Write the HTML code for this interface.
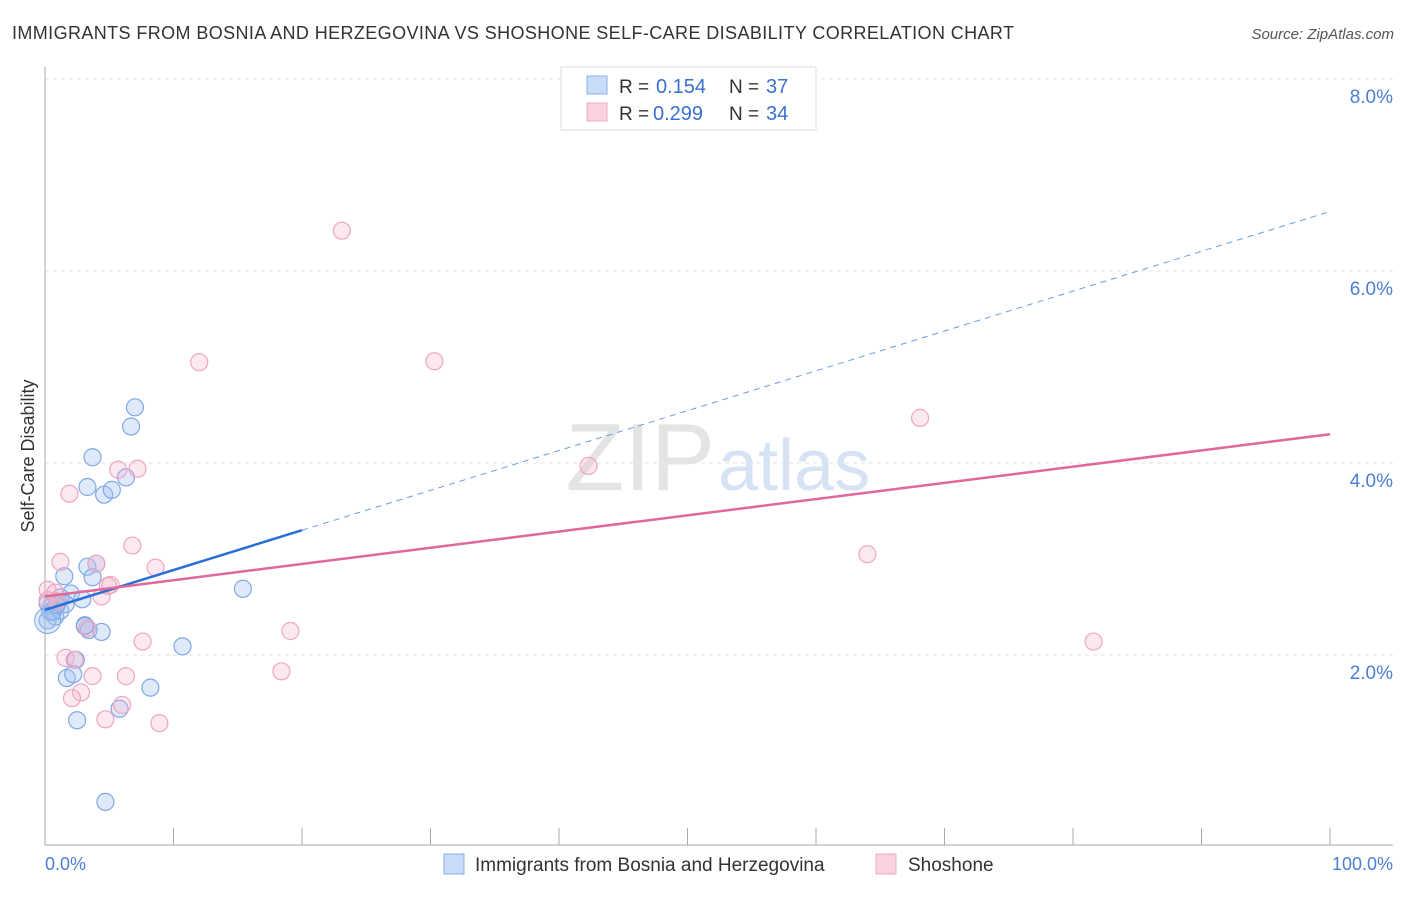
<!DOCTYPE html>
<html><head><meta charset="utf-8"><style>
body{margin:0;background:#fff;font-family:"Liberation Sans",sans-serif;}
svg text{font-family:"Liberation Sans",sans-serif;}
</style></head><body>
<svg width="1406" height="892" xmlns="http://www.w3.org/2000/svg">
<text x="12" y="39" font-size="18" fill="#333" textLength="1002">IMMIGRANTS FROM BOSNIA AND HERZEGOVINA VS SHOSHONE SELF-CARE DISABILITY CORRELATION CHART</text>
<text x="1394" y="39" font-size="15" fill="#555" text-anchor="end" font-style="italic">Source: ZipAtlas.com</text>
<g id="grid"></g>
<text x="715" y="490" font-size="96" fill="#e4e4e4" text-anchor="end" font-family="Liberation Serif">ZIP</text>
<text x="718" y="490" font-size="72" fill="#d6e3f5">atlas</text>
<line x1="45" y1="67" x2="45" y2="845" stroke="#aaa"/>
<line x1="45" y1="845" x2="1393" y2="845" stroke="#aaa"/>
<g id="pts"></g>
<g id="lines"></g>
<text transform="translate(34,456) rotate(-90)" font-size="18" fill="#333" text-anchor="middle">Self-Care Disability</text>
<text x="45" y="870" font-size="18" fill="#4a7fd6">0.0%</text>
<text x="1393" y="870" font-size="18" fill="#4a7fd6" text-anchor="end">100.0%</text>
<g>
<rect x="561" y="67" width="255" height="63" fill="#fff" stroke="#ddd"/>
<rect x="587" y="76" width="20" height="18" fill="#c8dcf7" stroke="#8ab0e8"/>
<rect x="587" y="103" width="20" height="18" fill="#fad2df" stroke="#eeaac2"/>
<text x="619" y="93" font-size="19" fill="#333">R =</text>
<text x="656" y="93" font-size="20" fill="#3a70d0">0.154</text>
<text x="729" y="93" font-size="19" fill="#333">N =</text>
<text x="766" y="93" font-size="20" fill="#3a70d0">37</text>
<text x="619" y="120" font-size="19" fill="#333">R =</text>
<text x="653" y="120" font-size="20" fill="#3a70d0">0.299</text>
<text x="729" y="120" font-size="19" fill="#333">N =</text>
<text x="766" y="120" font-size="20" fill="#3a70d0">34</text>
</g>
<g>
<rect x="444" y="854" width="20" height="20" fill="#c8dcf7" stroke="#8ab0e8"/>
<text x="475" y="871" font-size="19" fill="#333">Immigrants from Bosnia and Herzegovina</text>
<rect x="876" y="854" width="20" height="20" fill="#fad2df" stroke="#eeaac2"/>
<text x="908" y="871" font-size="19" fill="#333">Shoshone</text>
</g>
</svg>
<script>
const yTicks=[2,4,6,8];
const yTickLabels=["2.0%","4.0%","6.0%","8.0%"];
const xTicks=[0,10,20,30,40,50,60,70,80,90,100];
const blueX=[7.0,6.7,3.7,3.3,4.6,5.2,6.3,1.5,3.3,3.7,4.0,2.0,2.9,1.0,0.5,0.4,0.8,1.2,0.2,3.1,3.4,4.4,15.4,10.7,2.4,1.7,2.2,8.2,5.8,2.5,4.7,1.2,0.2,0.6,1.6,3.1,0.9];
const blueY=[4.58,4.38,4.06,3.75,3.67,3.72,3.85,2.82,2.92,2.81,2.95,2.64,2.58,2.55,2.51,2.45,2.40,2.46,2.36,2.31,2.26,2.24,2.69,2.09,1.95,1.76,1.80,1.66,1.44,1.32,0.47,2.60,2.54,2.45,2.53,2.30,2.52];
const pinkX=[23.1,12.0,30.3,68.1,42.3,5.7,7.2,1.9,6.8,1.2,4.0,8.6,64.0,5.1,4.9,4.4,0.2,0.8,0.9,81.6,19.1,7.6,3.3,1.6,2.3,18.4,3.7,6.3,2.8,2.1,6.0,4.7,8.9,0.2];
const pinkY=[6.42,5.05,5.06,4.47,3.97,3.93,3.94,3.68,3.14,2.97,2.95,2.91,3.05,2.73,2.72,2.61,2.68,2.65,2.56,2.14,2.25,2.14,2.28,1.97,1.95,1.83,1.78,1.78,1.61,1.55,1.48,1.33,1.29,2.57];
const blueFit=[2.47,0.0415];
const pinkFit=[2.61,0.0169];
const NS="http://www.w3.org/2000/svg";
const X=v=>45+v*12.85, Y=v=>847-v*96;
function mk(t,a,p){const e=document.createElementNS(NS,t);for(const k in a)e.setAttribute(k,a[k]);p.appendChild(e);return e;}
const grid=document.getElementById('grid');
yTicks.forEach((t,i)=>{
 const l=mk('line',{x1:45,x2:1393,y1:Y(t),y2:Y(t),stroke:'#e2e2e2','stroke-dasharray':'4,4'},grid);
 
 
 const tx=mk('text',{x:1393,y:Y(t)+24,'font-size':19,fill:'#4a7fd6','text-anchor':'end'},grid);
 tx.textContent=yTickLabels[i];
 
 
});
xTicks.forEach(t=>{
 const l=mk('line',{x1:X(t),x2:X(t),y1:828,y2:845,stroke:'#aaa'},grid);
 
 
});
const pts=document.getElementById('pts');
blueX.forEach((x,i)=>{
 const c=mk('circle',{cx:X(x),cy:Y(blueY[i]),r:8.5,fill:'rgba(160,195,240,0.35)',stroke:'#7fa8e4','stroke-width':1.2},pts);
 
 
});
pinkX.forEach((x,i)=>{
 const c=mk('circle',{cx:X(x),cy:Y(pinkY[i]),r:8.5,fill:'rgba(245,180,205,0.3)',stroke:'#eea6c0','stroke-width':1.2},pts);
 
 
});
const big=mk('circle',{cx:X(0.2),cy:Y(2.36),r:13,fill:'rgba(160,195,240,0.35)',stroke:'#7fa8e4'},pts);


const lines=document.getElementById('lines');
const f=(fit,x)=>fit[0]+fit[1]*x;
let l1=mk('line',{x1:X(0),y1:Y(f(blueFit,0)),x2:X(20),y2:Y(f(blueFit,20)),stroke:'#2a6fd6','stroke-width':2.5},lines);


let l2=mk('line',{x1:X(20),y1:Y(f(blueFit,20)),x2:X(100),y2:Y(f(blueFit,100)),stroke:'#6a9be0','stroke-width':1,'stroke-dasharray':'6,5'},lines);


let l3=mk('line',{x1:X(0),y1:Y(f(pinkFit,0)),x2:X(100),y2:Y(f(pinkFit,100)),stroke:'#e0689a','stroke-width':2.5},lines);


</script>
</body></html>
